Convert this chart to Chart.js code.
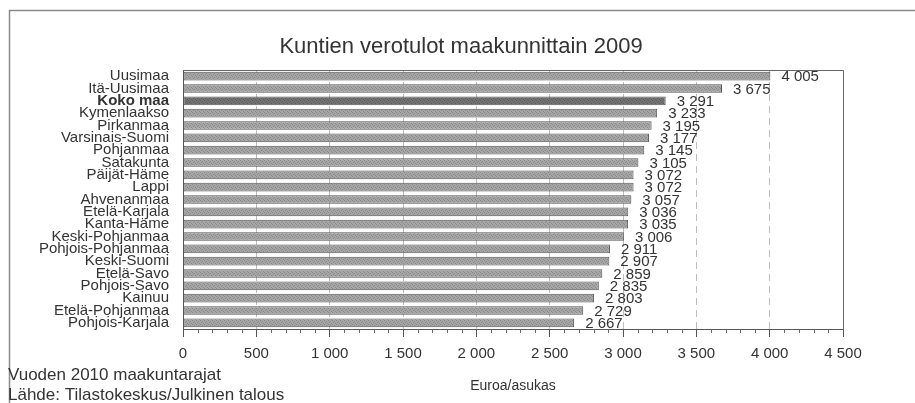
<!DOCTYPE html>
<html>
<head>
<meta charset="utf-8">
<script src="https://cdn.jsdelivr.net/npm/chart.js@4/dist/chart.umd.min.js"></script>
<style>
html,body{margin:0;padding:0;background:#fff;}
#wrap{width:915px;height:403px;position:relative;}
</style>
</head>
<body>
<div id="wrap"><canvas id="c" width="915" height="403"></canvas></div>
<script>
const categories = ['Uusimaa','Itä-Uusimaa','Koko maa','Kymenlaakso','Pirkanmaa','Varsinais-Suomi','Pohjanmaa','Satakunta','Päijät-Häme','Lappi','Ahvenanmaa','Etelä-Karjala','Kanta-Häme','Keski-Pohjanmaa','Pohjois-Pohjanmaa','Keski-Suomi','Etelä-Savo','Pohjois-Savo','Kainuu','Etelä-Pohjanmaa','Pohjois-Karjala'];
const values = [4005,3675,3291,3233,3195,3177,3145,3105,3072,3072,3057,3036,3035,3006,2911,2907,2859,2835,2803,2729,2667];
const highlightCategory = 'Koko maa';
const titleText = 'Kuntien verotulot maakunnittain 2009';
const axisTitle = 'Euroa/asukas';
const footnotes = ['Vuoden 2010 maakuntarajat', 'Lähde: Tilastokeskus/Julkinen talous'];
const xMin = 0, xMax = 4500, xStep = 500, xMinorStep = 100;

function fmt(v){ return String(v).replace(/\B(?=(\d{3})+(?!\d))/g, '\u00a0'); }

function makePattern(base, dot){
  const p = document.createElement('canvas');
  p.width = 4; p.height = 4;
  const g = p.getContext('2d');
  g.fillStyle = base; g.fillRect(0,0,4,4);
  g.fillStyle = dot;
  g.fillRect(0,0,1,1); g.fillRect(2,1,1,1); g.fillRect(1,2,1,1); g.fillRect(3,3,1,1);
  return document.getElementById('c').getContext('2d').createPattern(p,'repeat');
}
const normalFill = makePattern('#a6a6a6', '#888888');
const hiFill = makePattern('#737373', '#5c5c5c');
const FONT = '"Liberation Sans", Arial, sans-serif';

const framePlugin = {
  id: 'frame',
  beforeDraw(chart){
    const ctx = chart.ctx;
    ctx.save();
    ctx.strokeStyle = '#8a8a8a';
    ctx.lineWidth = 1.5;
    ctx.beginPath();
    ctx.moveTo(9.5, 403); ctx.lineTo(9.5, 10.5); ctx.lineTo(915, 10.5);
    ctx.stroke();
    ctx.restore();
  },
  afterDraw(chart){
    const ctx = chart.ctx, a = chart.chartArea, xs = chart.scales.x;
    ctx.save();
    ctx.strokeStyle = '#666';
    ctx.lineWidth = 1;
    ctx.beginPath();
    ctx.moveTo(Math.round(a.left)+0.5, Math.round(a.top)+0.5);
    ctx.lineTo(Math.round(a.right)+0.5, Math.round(a.top)+0.5);
    ctx.lineTo(Math.round(a.right)+0.5, Math.round(a.bottom)+0.5);
    ctx.stroke();
    // minor ticks
    ctx.beginPath();
    for(let v = xMin + xMinorStep; v < xMax; v += xMinorStep){
      if (v % xStep === 0) continue;
      const x = Math.round(xs.getPixelForValue(v)) + 0.5;
      ctx.moveTo(x, a.bottom); ctx.lineTo(x, a.bottom + 4);
    }
    ctx.stroke();
    // title
    ctx.fillStyle = '#333';
    ctx.textBaseline = 'middle';
    ctx.textAlign = 'center';
    ctx.font = '22px ' + FONT;
    ctx.fillText(titleText, 461, 47);
    // footnotes
    ctx.font = '17px ' + FONT;
    ctx.textAlign = 'left';
    ctx.fillText(footnotes[0], 8, 375);
    ctx.fillText(footnotes[1], 8, 395);
    ctx.restore();
  },
  afterDatasetsDraw(chart){
    const ctx = chart.ctx;
    const meta = chart.getDatasetMeta(0);
    ctx.save();
    ctx.fillStyle = '#333';
    ctx.font = '15px ' + FONT;
    ctx.textBaseline = 'middle';
    ctx.textAlign = 'left';
    meta.data.forEach((bar, i) => {
      ctx.fillText(fmt(values[i]), bar.x + 11, bar.y + 1);
    });
    ctx.restore();
  }
};

new Chart(document.getElementById('c'), {
  type: 'bar',
  data: {
    labels: categories,
    datasets: [{
      data: values,
      backgroundColor: categories.map(c => c === highlightCategory ? hiFill : normalFill),
      borderColor: '#555',
      borderWidth: 1,
      borderSkipped: false,
      barPercentage: 0.7,
      categoryPercentage: 1.0
    }]
  },
  plugins: [framePlugin],
  options: {
    indexAxis: 'y',
    responsive: false,
    animation: false,
    devicePixelRatio: 1,
    layout: { padding: { left: 0, right: 72, top: 70, bottom: 0 } },
    plugins: {
      legend: { display: false },
      tooltip: { enabled: false },
      title: { display: false }
    },
    scales: {
      x: {
        type: 'linear',
        min: xMin, max: xMax,
        afterFit(s){ s.height = 74; },
        ticks: {
          stepSize: xStep,
          color: '#333',
          padding: 8,
          maxRotation: 0,
          font: { family: FONT, size: 15 },
          callback: v => fmt(v)
        },
        grid: {
          color: ctx => (ctx.tick && (ctx.tick.value === xMin || ctx.tick.value === xMax)) ? 'rgba(0,0,0,0)' : '#bdbdbd',
          drawTicks: true,
          tickLength: 8,
          tickColor: '#555',
          tickBorderDash: [],
          z: -1
        },
        border: { display: true, color: '#555', dash: [7, 5] },
        title: {
          display: true,
          text: axisTitle,
          color: '#333',
          font: { family: FONT, size: 14 },
          padding: { top: 10, bottom: 8 }
        }
      },
      y: {
        afterFit(s){ s.width = 183; },
        ticks: {
          color: '#333',
          padding: 14,
          autoSkip: false,
          font: ctx => ({ family: FONT, size: 15, weight: (categories[ctx.index] === highlightCategory) ? 'bold' : 'normal', lineHeight: 1 })
        },
        grid: { display: false, drawTicks: false },
        border: { display: true, color: '#555' }
      }
    }
  }
});
</script>
</body>
</html>
